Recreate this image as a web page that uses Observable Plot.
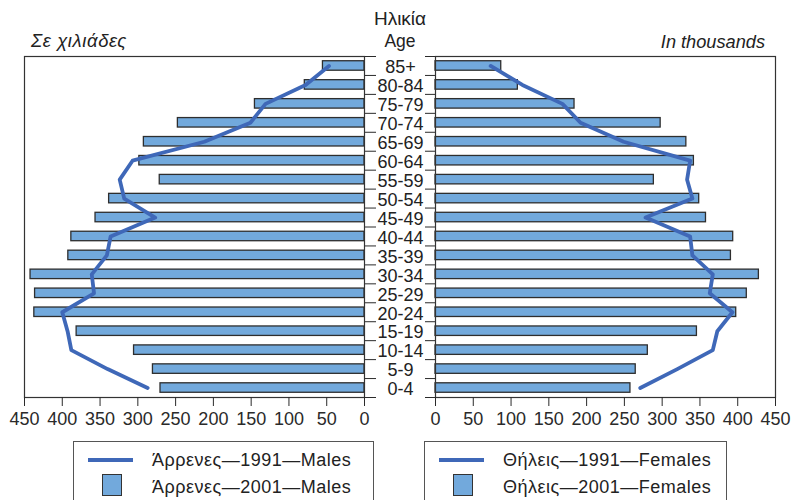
<!DOCTYPE html>
<html><head><meta charset="utf-8">
<script src="https://cdn.jsdelivr.net/npm/d3@7"></script>
<script src="https://cdn.jsdelivr.net/npm/@observablehq/plot@0.6"></script>
<style>
body{margin:0;background:#fff;font-family:"Liberation Sans",Arial,Helvetica,sans-serif;color:#222}
#wrap{position:relative;width:792px;height:500px;overflow:hidden;background:#fff}
.t{position:absolute;white-space:nowrap;line-height:1}
.box{position:absolute;border:1px solid #555;box-sizing:border-box}
.ln{position:absolute;height:4px;background:#3f68b8}
.sq{position:absolute;background:#72a9dc;border:1.5px solid #333;box-sizing:border-box}
svg.pl{position:absolute;top:0}
</style></head><body><div id="wrap"></div>
<script>
const ages = ["0-4","5-9","10-14","15-19","20-24","25-29","30-34","35-39","40-44","45-49","50-54","55-59","60-64","65-69","70-74","75-79","80-84","85+"];
const males2001   = [270, 280, 305, 381, 437, 436, 442, 392, 388, 356, 338, 271, 298, 292, 247, 145, 79, 55];
const males1991   = [287, 340, 388, 393, 400, 358, 361, 341, 336, 277, 318, 324, 307, 212, 151, 131, 78, 47];
const females2001 = [258, 265, 281, 346, 398, 412, 428, 391, 394, 358, 349, 289, 342, 332, 298, 184, 109, 87];
const females1991 = [271, 320, 367, 373, 393, 363, 367, 340, 337, 278, 340, 333, 337, 249, 192, 168, 115, 73];
const xTicks = [0, 50, 100, 150, 200, 250, 300, 350, 400, 450];

const headerTop = "Ηλικία", headerAge = "Age";
const unitLeft = "Σε χιλιάδες", unitRight = "In thousands";
const legendMales = ["Άρρενες—1991—Males", "Άρρενες—2001—Males"];
const legendFemales = ["Θήλεις—1991—Females", "Θήλεις—2001—Females"];

const barFill = "#72a9dc", barStroke = "#2e2e2e", lineColor = "#3f68b8";
const H = 432, MT = 56, MB = 35;
const step = (H - MT - MB) / ages.length;
const rows = vals => ages.map((a, i) => ({age: a, value: vals[i]}));
const yDomain = ages.slice().reverse();
const baseStyle = {background: "transparent", overflow: "visible", fontFamily: '"Liberation Sans", Arial, sans-serif', fontSize: "18px", color: "#2a2a2a"};

function panel({width, ml, mr, reverse, bars, line, anchor, tickLen, labels}) {
  const marks = [
    Plot.barX(rows(bars), {x: "value", y: "age", fill: barFill, stroke: barStroke, strokeWidth: 1.3}),
    Plot.line(rows(line), {x: "value", y: "age", stroke: lineColor, strokeWidth: 3.8, strokeLinejoin: "round"}),
    Plot.frame({stroke: "#333", strokeWidth: 1.2}),
    Plot.axisX({ticks: xTicks, tickSize: 9, tickPadding: 6, label: null, anchor: "bottom", tickFormat: d => d}),
    Plot.axisY({anchor, tickSize: tickLen, tickFormat: () => "", label: null, dy: -step / 2}),
    Plot.axisY([ages[0]], {anchor, tickSize: tickLen, tickFormat: () => "", label: null, dy: step / 2})
  ];
  if (labels) marks.push(Plot.text(ages, {y: d => d, text: d => d, frameAnchor: "right", dx: 36, dy: 1.5, textAnchor: "middle", fontSize: 18, fill: "#222"}));
  const svg = Plot.plot({
    width, height: H, marginLeft: ml, marginRight: mr, marginTop: MT, marginBottom: MB,
    style: baseStyle,
    x: {domain: [0, 450], reverse, label: null},
    y: {domain: yDomain, paddingInner: 0.5, paddingOuter: 0.25, round: false, label: null},
    marks
  });
  svg.querySelectorAll("text").forEach(t => { if (!t.textContent.trim()) t.remove(); });
  return svg;
}

const wrap = document.getElementById("wrap");
const left = panel({width: 400, ml: 24, mr: 36, reverse: true, bars: males2001, line: males1991, anchor: "right", tickLen: 11, labels: true});
left.classList.add("pl"); left.style.left = "0px";
const right = panel({width: 372, ml: 15, mr: 17, reverse: false, bars: females2001, line: females1991, anchor: "left", tickLen: 10, labels: false});
right.classList.add("pl"); right.style.left = "420px";
wrap.appendChild(left); wrap.appendChild(right);

function txt(s, {x, base, size, anchor = "start", italic = false, ls = 0}) {
  const d = document.createElement("div");
  d.className = "t";
  d.textContent = s;
  d.style.fontSize = size + "px";
  d.style.letterSpacing = ls + "px";
  d.style.top = (base - 0.8465 * size) + "px";
  if (italic) d.style.fontStyle = "italic";
  if (anchor === "middle") { d.style.left = x + "px"; d.style.transform = "translateX(-50%)"; }
  else if (anchor === "end") { d.style.right = (792 - x) + "px"; }
  else d.style.left = x + "px";
  wrap.appendChild(d);
}
txt(headerTop, {x: 400, base: 25, size: 19, anchor: "middle"});
txt(headerAge, {x: 400, base: 48, size: 17.5, anchor: "middle"});
txt(unitLeft, {x: 31, base: 48, size: 18.5, italic: true, ls: 0.6});
txt(unitRight, {x: 765, base: 48, size: 18.2, anchor: "end", italic: true});

function legend(x0, w, labels) {
  const b = document.createElement("div");
  b.className = "box";
  Object.assign(b.style, {left: x0 + "px", top: "441px", width: w + "px", height: "80px"});
  wrap.appendChild(b);
  const l = document.createElement("div");
  l.className = "ln";
  Object.assign(l.style, {left: (x0 + 15) + "px", top: "457.5px", width: "45px"});
  wrap.appendChild(l);
  const s = document.createElement("div");
  s.className = "sq";
  Object.assign(s.style, {left: (x0 + 28.5) + "px", top: "474px", width: "20px", height: "22px"});
  wrap.appendChild(s);
  txt(labels[0], {x: x0 + 79, base: 466, size: 18, ls: 0.5});
  txt(labels[1], {x: x0 + 79, base: 493, size: 18, ls: 0.5});
}
legend(73, 301, legendMales);
legend(424, 303, legendFemales);
</script></body></html>
